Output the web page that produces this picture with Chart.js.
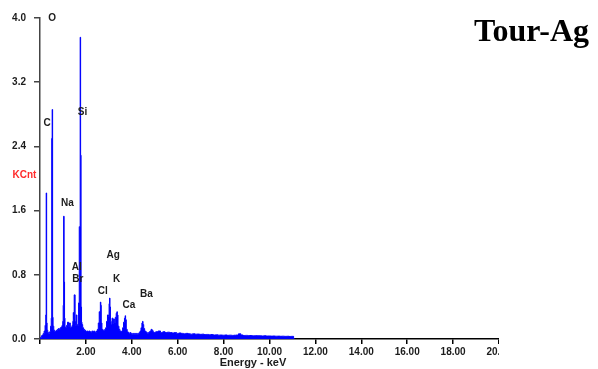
<!DOCTYPE html>
<html>
<head>
<meta charset="utf-8">
<script src="https://cdn.jsdelivr.net/npm/chart.js@4/dist/chart.umd.min.js"></script>
<style>
  html, body { margin: 0; padding: 0; background: #fff; }
  #page { position: relative; width: 598px; height: 369px; overflow: hidden; background: #fff; }
  #plot { position: absolute; left: 0; top: 0; width: 499px; height: 369px; overflow: hidden; }
  #plot canvas { display: block; }
  #title {
    position: absolute; left: 474px; top: 14px; margin: 0;
    font: bold 32px "Liberation Serif", "Times New Roman", serif;
    line-height: 32px; color: #000; white-space: nowrap;
  }
</style>
</head>
<body>
<div id="page">
  <div id="plot"><canvas id="eds" width="598" height="369" style="width:598px;height:369px"></canvas></div>
  <div id="title">Tour-Ag</div>
</div>
<script>
// EDS spectrum: channel energy (keV) and intensity (KCnt)
const energyKeV = [
  0.00, 0.04, 0.08, 0.12, 0.16, 0.20, 0.24, 0.26, 0.28, 0.30, 0.32, 0.36, 0.40, 0.44, 0.48, 0.50,
  0.52, 0.54, 0.56, 0.58, 0.62, 0.66, 0.70, 0.74, 0.78, 0.82, 0.86, 0.90, 0.94, 0.98, 1.00, 1.02,
  1.04, 1.06, 1.08, 1.10, 1.14, 1.18, 1.22, 1.26, 1.30, 1.34, 1.38, 1.42, 1.44, 1.46, 1.48, 1.50,
  1.52, 1.54, 1.56, 1.60, 1.62, 1.66, 1.70, 1.72, 1.74, 1.76, 1.78, 1.80, 1.82, 1.84, 1.88, 1.92,
  1.96, 2.00, 2.04, 2.08, 2.12, 2.16, 2.20, 2.24, 2.28, 2.32, 2.36, 2.40, 2.44, 2.48, 2.52, 2.56,
  2.60, 2.62, 2.64, 2.66, 2.68, 2.72, 2.76, 2.80, 2.84, 2.88, 2.92, 2.96, 3.00, 3.02, 3.04, 3.06,
  3.08, 3.12, 3.16, 3.20, 3.22, 3.26, 3.30, 3.34, 3.36, 3.38, 3.42, 3.46, 3.50, 3.54, 3.58, 3.62,
  3.66, 3.70, 3.72, 3.74, 3.78, 3.82, 3.86, 3.90, 3.94, 3.98, 4.02, 4.06, 4.10, 4.14, 4.18, 4.22,
  4.26, 4.30, 4.34, 4.38, 4.42, 4.46, 4.48, 4.50, 4.54, 4.58, 4.62, 4.66, 4.70, 4.74, 4.78, 4.82,
  4.86, 4.90, 4.94, 4.98, 5.10, 5.20, 5.30, 5.40, 5.50, 5.60, 5.70, 5.80, 5.90, 6.00, 6.10, 6.20,
  6.30, 6.40, 6.50, 6.60, 6.70, 6.80, 6.90, 7.00, 7.10, 7.20, 7.30, 7.40, 7.50, 7.60, 7.70, 7.80,
  7.90, 8.00, 8.10, 8.20, 8.30, 8.40, 8.50, 8.60, 8.70, 8.80, 8.90, 9.00, 9.10, 9.20, 9.30, 9.40,
  9.50, 9.60, 9.70, 9.80, 9.90, 10.00, 10.10, 10.20, 10.30, 10.40, 10.50, 10.60, 10.70, 10.80, 10.90, 11.00,
  11.10
];
const counts = [
  0.00, 0.02, 0.04, 0.05, 0.07, 0.10, 0.17, 0.30, 1.82, 0.20, 0.11, 0.08, 0.07, 0.09, 0.16, 0.26,
  2.50, 2.86, 0.27, 0.16, 0.11, 0.09, 0.10, 0.11, 0.12, 0.13, 0.12, 0.14, 0.15, 0.17, 0.22, 0.42,
  1.53, 0.71, 0.26, 0.15, 0.14, 0.17, 0.21, 0.15, 0.20, 0.14, 0.15, 0.17, 0.22, 0.33, 0.25, 0.55,
  0.55, 0.22, 0.17, 0.30, 0.18, 0.17, 0.45, 1.40, 1.40, 3.76, 2.29, 0.40, 0.21, 0.18, 0.14, 0.12,
  0.11, 0.10, 0.09, 0.10, 0.09, 0.10, 0.09, 0.08, 0.10, 0.09, 0.10, 0.09, 0.08, 0.10, 0.12, 0.20,
  0.34, 0.25, 0.46, 0.42, 0.20, 0.12, 0.11, 0.10, 0.12, 0.14, 0.22, 0.30, 0.28, 0.44, 0.51, 0.40,
  0.22, 0.18, 0.26, 0.19, 0.25, 0.20, 0.27, 0.32, 0.34, 0.30, 0.16, 0.12, 0.10, 0.09, 0.10, 0.14,
  0.21, 0.26, 0.29, 0.24, 0.12, 0.09, 0.08, 0.07, 0.08, 0.07, 0.06, 0.07, 0.06, 0.07, 0.06, 0.07,
  0.06, 0.07, 0.08, 0.10, 0.14, 0.20, 0.22, 0.18, 0.13, 0.10, 0.09, 0.08, 0.07, 0.08, 0.09, 0.10,
  0.12, 0.11, 0.09, 0.08, 0.09, 0.10, 0.08, 0.09, 0.08, 0.085, 0.08, 0.075, 0.08, 0.07, 0.075, 0.07,
  0.065, 0.07, 0.065, 0.06, 0.065, 0.06, 0.062, 0.058, 0.06, 0.055, 0.057, 0.052, 0.055, 0.05, 0.052, 0.048,
  0.05, 0.047, 0.05, 0.046, 0.048, 0.045, 0.047, 0.05, 0.065, 0.05, 0.044, 0.045, 0.042, 0.043, 0.04, 0.042,
  0.04, 0.041, 0.038, 0.04, 0.037, 0.038, 0.036, 0.037, 0.035, 0.036, 0.034, 0.035, 0.033, 0.034, 0.032, 0.033,
  0.00
];

// Element line labels: symbol, energy position (keV), height (KCnt)
const elementNames = ['O', 'C', 'Si', 'Na', 'Al', 'Br', 'Cl', 'Ag', 'K', 'Ca', 'Ba'];
const elementKeV   = [0.53, 0.31, 1.85, 1.19, 1.60, 1.65, 2.73, 3.19, 3.34, 3.87, 4.64];
const elementKCnt  = [4.00, 2.69, 2.83, 1.69, 0.89, 0.75, 0.60, 1.04, 0.75, 0.42, 0.56];

// Axis ranges and tick spacing
const energyRange = [0, 20];
const energyStep = 2;
const countRange = [0, 4.0];
const countStep = 0.8;

const labelFont = 'bold 10px "Liberation Sans", Arial, sans-serif';

const annotations = {
  id: 'edsAnnotations',
  afterDraw(chart) {
    const { ctx, chartArea, scales } = chart;
    ctx.save();
    ctx.font = labelFont;
    ctx.fillStyle = '#1c1c1c';
    ctx.textAlign = 'center';
    ctx.textBaseline = 'middle';
    elementNames.forEach((name, i) => {
      ctx.fillText(name, scales.x.getPixelForValue(elementKeV[i]), scales.y.getPixelForValue(elementKCnt[i]));
    });
    // y-axis unit, drawn upright
    ctx.fillStyle = '#ff2a2a';
    ctx.fillText('KCnt', chartArea.left - 15.5, scales.y.getPixelForValue(2.04));
    // x-axis title
    ctx.fillStyle = '#1c1c1c';
    ctx.font = 'bold 11px "Liberation Sans", Arial, sans-serif';
    ctx.fillText('Energy - keV', 253, chartArea.bottom + 23.5);
    ctx.restore();
  }
};

new Chart(document.getElementById('eds'), {
  type: 'line',
  data: {
    datasets: [{
      data: energyKeV.map((e, i) => ({ x: e, y: counts[i] })),
      borderColor: '#0000ff',
      backgroundColor: '#0000ff',
      borderWidth: 1,
      pointRadius: 0,
      fill: 'origin',
      stepped: 'middle'
    }]
  },
  options: {
    responsive: false,
    animation: false,
    devicePixelRatio: 1,
    layout: { padding: { left: 0, right: 99, top: 18, bottom: 0 } },
    plugins: { legend: { display: false }, tooltip: { enabled: false }, title: { display: false } },
    scales: {
      x: {
        type: 'linear',
        min: energyRange[0],
        max: energyRange[1],
        ticks: {
          stepSize: energyStep,
          autoSkip: false,
          maxRotation: 0,
          padding: 2,
          color: '#1c1c1c',
          font: { family: '"Liberation Sans", Arial, sans-serif', size: 10, weight: 'bold' },
          callback: v => (v === 0 ? '' : v.toFixed(2))
        },
        grid: { drawOnChartArea: false, drawTicks: true, tickLength: 5, color: '#000', lineWidth: 1.5 },
        border: { display: true, color: '#000', width: 1.5 },
        afterFit: s => { s.height = 30; }
      },
      y: {
        min: countRange[0],
        max: countRange[1],
        ticks: {
          stepSize: countStep,
          padding: 8,
          color: '#1c1c1c',
          font: { family: '"Liberation Sans", Arial, sans-serif', size: 10, weight: 'bold' },
          callback: v => v.toFixed(1)
        },
        grid: { drawOnChartArea: false, drawTicks: true, tickLength: 6, color: '#444', lineWidth: 1.5 },
        border: { display: true, color: '#444', width: 1.5 },
        afterFit: s => { s.width = 40; }
      }
    }
  },
  plugins: [annotations]
});
</script>
</body>
</html>
